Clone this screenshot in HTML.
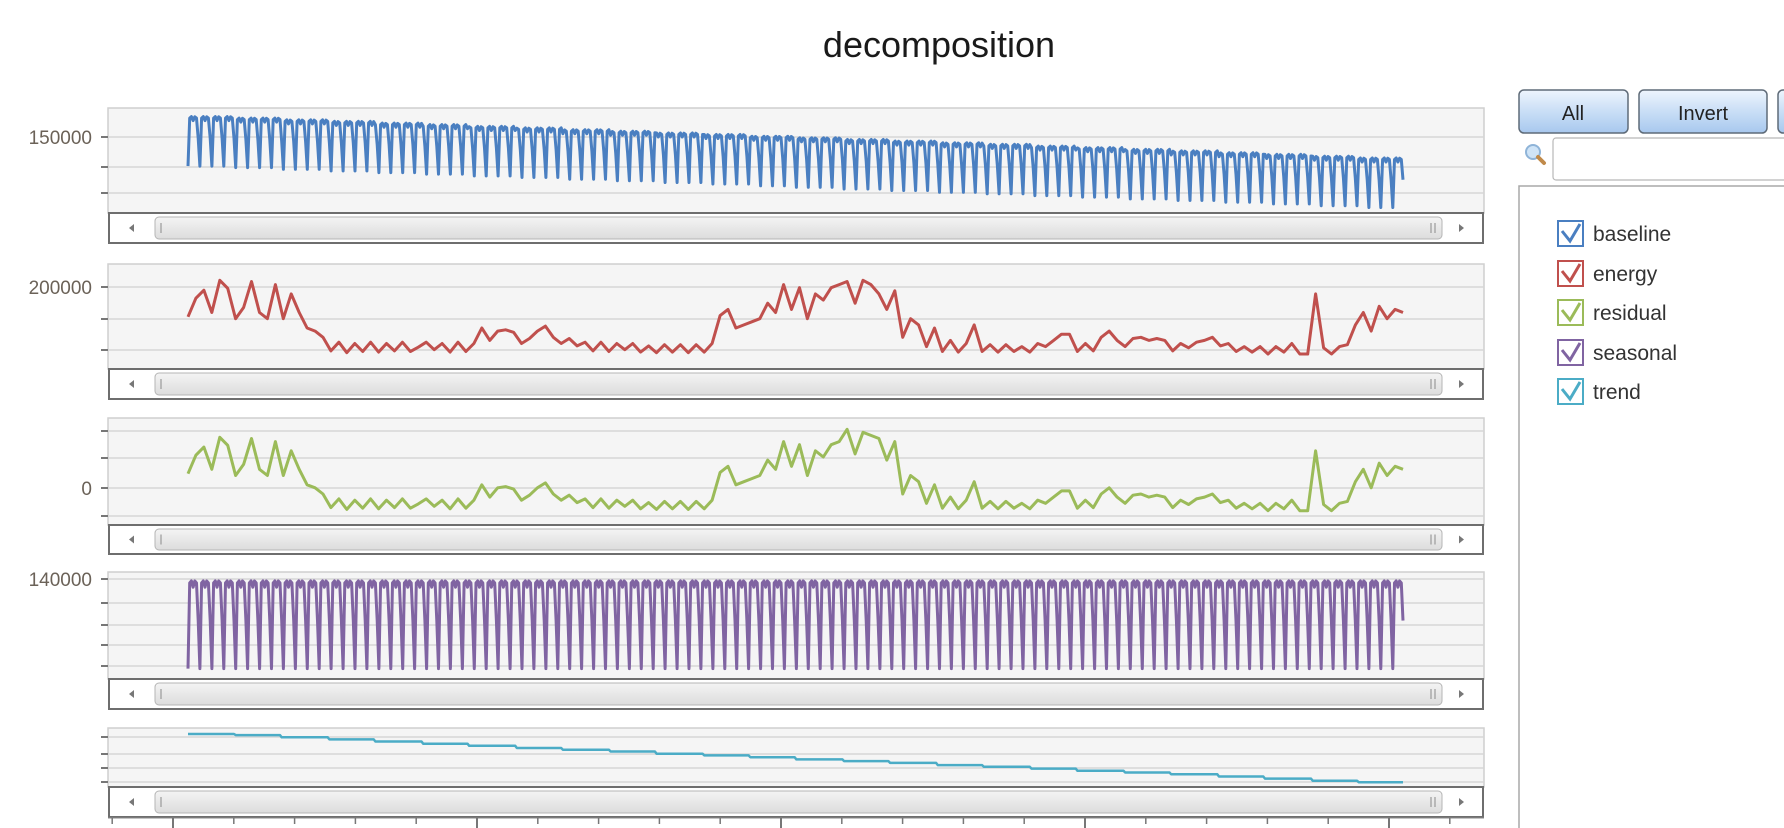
<!DOCTYPE html>
<html><head><meta charset="utf-8">
<style>
html,body{margin:0;padding:0;background:#fff;width:1784px;height:828px;overflow:hidden}
svg{display:block}
text{font-family:"Liberation Sans",sans-serif}
</style></head>
<body>
<svg id="chart" width="1784" height="828" viewBox="0 0 1784 828" xmlns="http://www.w3.org/2000/svg">
<defs>
<linearGradient id="btnG" x1="0" y1="0" x2="0" y2="1"><stop offset="0" stop-color="#eef5fd"/><stop offset="0.5" stop-color="#c9def6"/><stop offset="1" stop-color="#a8c8ee"/></linearGradient>
<linearGradient id="thumbG" x1="0" y1="0" x2="0" y2="1"><stop offset="0" stop-color="#f4f4f4"/><stop offset="1" stop-color="#dcdcdc"/></linearGradient>
</defs>
<text x="939" y="57" text-anchor="middle" font-size="36" fill="#1a1a1a">decomposition</text>
<g id="panels"></g>
<g id="xaxis"></g>
<g id="sidebar">
 <rect x="1519" y="90" width="109" height="43" rx="5" fill="url(#btnG)" stroke="#5f6b78" stroke-width="1.5"/>
 <text x="1573" y="120" text-anchor="middle" font-size="20" fill="#222">All</text>
 <rect x="1639" y="90" width="128" height="43" rx="5" fill="url(#btnG)" stroke="#5f6b78" stroke-width="1.5"/>
 <text x="1703" y="120" text-anchor="middle" font-size="20" fill="#222">Invert</text>
 <rect x="1778" y="90" width="30" height="43" rx="5" fill="url(#btnG)" stroke="#5f6b78" stroke-width="1.5"/>
 <g><circle cx="1533" cy="152" r="7" fill="#cfe4f7" stroke="#8fb4d8" stroke-width="2"/><line x1="1538" y1="157" x2="1544" y2="163" stroke="#c08a4a" stroke-width="4" stroke-linecap="round"/></g>
 <rect x="1553" y="138" width="240" height="42" rx="3" fill="#fff" stroke="#b8b8b8" stroke-width="1.2"/>
 <rect x="1519" y="186" width="280" height="660" fill="#fff" stroke="#a8a8a8" stroke-width="1.5"/>
 <g id="legend"></g>
</g>
</svg>
<script>
// ---------- data ----------
const seriesNames = ["baseline","energy","residual","seasonal","trend"];
const seriesColors = ["#4a7fc1","#c0504d","#9bbb59","#8064a2","#4bacc6"];
const weeks = 102;
// weekly seasonal profile (thousands)
const seasonalProfile = [98, 139, 140, 137, 140, 139, 121];
// baseline weekly offsets relative to monthly level (thousands)
const baselineProfile = [-19, 0, 0.6, -1, 0.5, 0, -8];
// monthly baseline levels (thousands)
const baselineLevels = [156.8,156.2,155.5,154.9,154.2,153.6,152.9,152.3,151.6,151,150.3,149.7,149,148.4,147.7,147.1,146.4,145.8,145.1,144.5,143.8,143.2,142.5,141.8,141.1,140.4];
// monthly trend levels (thousands)
const trendLevels = [137.8,137,135.5,134,132.5,131,129.5,128,126.8,125.5,124,122.8,121.5,120,118.8,117.5,116,114.8,113.5,112,110.8,109.5,108,106.5,105,104];
// energy (thousands)
const energyValues = [153,183,196,160,212,199,150,168,210,160,150,205,150,190,160,135,130,120,98,112,95,110,97,112,96,110,98,112,97,104,112,100,110,96,112,97,110,135,115,130,132,128,110,118,130,138,120,110,118,106,112,98,112,97,110,100,110,96,106,95,108,96,108,95,108,96,110,155,165,135,140,145,150,175,160,205,165,
200,150,190,180,200,205,210,175,212,205,190,165,195,120,150,140,105,135,97,115,96,110,140,97,108,96,108,97,105,96,110,105,115,125,125,97,110,98,120,130,115,105,118,120,115,118,115,98,110,103,112,115,120,106,110,97,105,96,105,93,105,96,110,93,93,190,103,93,105,108,140,160,130,170,150,165,160];
// residual (thousands)
const residualValues = [18,48,61,25,77,64,15,33,75,25,15,70,15,55,25,0,-5,-15,-37,-23,-40,-25,-38,-23,-39,-25,-37,-23,-38,-31,-23,-35,-25,-39,-23,-38,-25,0,-20,-5,-3,-7,-25,-17,-5,3,-15,-25,-17,-29,-23,-37,-23,-38,-25,-35,-25,-39,-29,-40,-27,-39,-27,-40,-27,-39,-25,20,30,0,5,10,15,40,25,70,30,
65,15,55,45,65,70,90,50,85,80,75,40,70,-15,15,5,-30,0,-38,-20,-39,-25,5,-38,-27,-39,-27,-38,-30,-39,-25,-30,-20,-10,-10,-38,-25,-37,-15,-5,-20,-30,-17,-15,-20,-17,-20,-37,-25,-32,-23,-20,-15,-29,-25,-38,-30,-39,-30,-42,-30,-39,-25,-42,-42,55,-32,-42,-30,-27,5,25,-5,35,15,30,25];

// ---------- layout ----------
const X0 = 188, X1 = 1403;
const panels = [
 {top:108, plotBottom:213, bottom:243, grid:[137,167,193], label:"150000", labelY:137, vmin:120, vmax:160, k:"baseline"},
 {top:264, plotBottom:369, bottom:399, grid:[287,319,350], label:"200000", labelY:287, vmin:72, vmax:235, k:"energy"},
 {top:418, plotBottom:525, bottom:554, grid:[431,458,488,516], label:"0", labelY:488, vmin:-62, vmax:105, k:"residual"},
 {top:572, plotBottom:679, bottom:709, grid:[579,603,625,645,666], label:"140000", labelY:579, vmin:94, vmax:143.3, k:"seasonal"},
 {top:728, plotBottom:787, bottom:817, grid:[737,754,768,782], label:"", labelY:0, vmin:102, vmax:140.6, k:"trend"}
];
const NS = "http://www.w3.org/2000/svg";
function mk(tag, attrs, parent){const e=document.createElementNS(NS,tag);for(const k in attrs)e.setAttribute(k,attrs[k]);parent.appendChild(e);return e;}
const root = document.getElementById('panels');

function seriesData(k){
  const out=[];
  const days = weeks*7;
  if(k==="energy") return energyValues;
  if(k==="residual") return residualValues;
  for(let d=0; d<days; d++){
    const m = Math.min(baselineLevels.length-1, Math.floor(d/(days/baselineLevels.length)));
    const w = d%7;
    if(k==="baseline") out.push(baselineLevels[m]+baselineProfile[w]);
    else if(k==="seasonal") out.push(seasonalProfile[w]);
    else out.push(trendLevels[m]);
  }
  return out;
}

panels.forEach((p,i)=>{
  const g = mk('g',{},root);
  
  
  const bg = mk('rect',{x:108,y:p.top,width:1376,height:p.plotBottom-p.top,fill:'#f5f5f5',stroke:'#cfcfcf','stroke-width':1.5},g);
  
  
  p.grid.forEach(y=>{
    mk('line',{x1:108,x2:1484,y1:y,y2:y,stroke:'#d6d6d6','stroke-width':1.5},g);
    const t = mk('line',{x1:101,x2:108,y1:y,y2:y,stroke:'#777','stroke-width':2},g);
    
    
  });
  if(p.label){
    const lt = mk('text',{x:92,y:p.labelY+7,'text-anchor':'end','font-size':19,fill:'#6b6258'},g);
    lt.textContent = p.label;
    
    
  }
  const data = seriesData(p.k);
  const n = data.length;
  const xs = j => X0 + (X1-X0)*j/(n-1);
  const ys = v => p.plotBottom - 2 - (v-p.vmin)/(p.vmax-p.vmin)*(p.plotBottom-p.top-4);
  let d='';
  data.forEach((v,j)=>{d += (j?'L':'M')+xs(j).toFixed(1)+' '+ys(v).toFixed(1);});
  const path = mk('path',{d:d,fill:'none',stroke:seriesColors[i],'stroke-width':p.k==="trend"?2.5:3,'stroke-linejoin':'round'},g);
  
  
  const sb = mk('g',{},g);
  
  
  mk('rect',{x:109,y:p.plotBottom,width:1374,height:p.bottom-p.plotBottom,fill:'#fff',stroke:'#6e6e6e','stroke-width':2},sb);
  const my = (p.plotBottom+p.bottom)/2;
  mk('path',{d:`M129 ${my} L134 ${my-4} L134 ${my+4} Z`,fill:'#777'},sb);
  mk('path',{d:`M1464 ${my} L1459 ${my-4} L1459 ${my+4} Z`,fill:'#777'},sb);
  mk('rect',{x:155,y:p.plotBottom+4,width:1287,height:p.bottom-p.plotBottom-8,rx:4,fill:'url(#thumbG)',stroke:'#b5b5b5'},sb);
  mk('line',{x1:161,x2:161,y1:my-5,y2:my+5,stroke:'#999','stroke-width':1.2},sb);
  mk('line',{x1:1431,x2:1431,y1:my-5,y2:my+5,stroke:'#999','stroke-width':1.2},sb);
  mk('line',{x1:1435,x2:1435,y1:my-5,y2:my+5,stroke:'#999','stroke-width':1.2},sb);
});

const xg = document.getElementById('xaxis');
mk('line',{x1:108,x2:1484,y1:818,y2:818,stroke:'#888','stroke-width':1},xg);
for(let k=-1;k<=21;k++){
  const x = 173 + k*60.8;
  if(x<108||x>1484) continue;
  const major = (k%5===0);
  const t = mk('line',{x1:x,x2:x,y1:818,y2:major?828:824,stroke:'#777','stroke-width':major?2:1.5},xg);
  
  
}

const lg = document.getElementById('legend');
const legendY = [233,273,312,352,391];
seriesNames.forEach((nm,i)=>{
  const it = mk('g',{},lg);
  
  
  const y = legendY[i];
  mk('rect',{x:1558,y:y-12,width:25,height:25,fill:'#fff',stroke:seriesColors[i],'stroke-width':2},it);
  mk('path',{d:`M1562 ${y-2} L1570 ${y+8} L1580 ${y-9}`,fill:'none',stroke:seriesColors[i],'stroke-width':3},it);
  const t = mk('text',{x:1593,y:y+8,'font-size':21,fill:'#333'},it);
  t.textContent = nm;
});
</script>
</body></html>
